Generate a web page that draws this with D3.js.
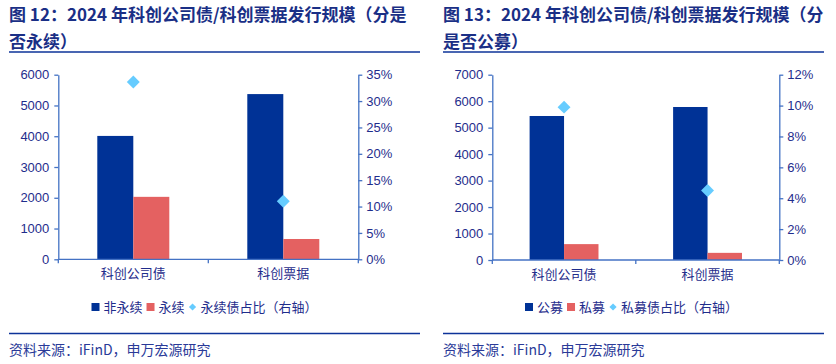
<!DOCTYPE html>
<html>
<head>
<meta charset="utf-8">
<script src="https://cdn.jsdelivr.net/npm/d3@7"></script>
<style>
  body { margin: 0; background: #fff; }
  svg text { font-family: "Liberation Sans", Arial, "Noto Sans CJK SC", sans-serif; }
  .cjk { font-family: "Noto Sans CJK SC", "Liberation Sans", sans-serif; }
</style>
</head>
<body>
<div id="chart"></div>
<script>
// categories shared by both panels
var categories = ["科创公司债", "科创票据"];

// 图12: 分是否永续
var perpNo = [4010, 5370];
var perpYes = [2030, 660];
var perpShare = [33.6, 11.0];
var leftTicks12 = [0, 1000, 2000, 3000, 4000, 5000, 6000];
var rightTicks12 = [0, 5, 10, 15, 20, 25, 30, 35];

// 图13: 分是否公募
var publicAmt = [5440, 5780];
var privateAmt = [600, 270];
var privateShare = [9.9, 4.5];
var leftTicks13 = [0, 1000, 2000, 3000, 4000, 5000, 6000, 7000];
var rightTicks13 = [0, 2, 4, 6, 8, 10, 12];

var BLUE = "#003296", RED = "#E46161", CYAN = "#66CCFF";
var AXIS = "#4472C4", TXT = "#1F2D8C", TITLE = "#1A2F86";

var svg = d3.select("#chart").append("svg")
    .attr("width", 836).attr("height", 364);

function drawPanel(p) {
    var g = svg.append("g");

    // title (two lines) and rule
    p.title.forEach(function(t, i) {
        g.append("text").attr("class", "cjk")
            .attr("x", p.titleX).attr("y", 21 + i * 27)
            .attr("fill", TITLE).attr("font-size", 17).attr("font-weight", "bold")
            .text(t);
    });
    g.append("line").attr("x1", p.titleX).attr("x2", p.ruleEnd)
        .attr("y1", 52).attr("y2", 52)
        .attr("stroke", "#0D3399").attr("stroke-width", 1.5);

    var x = d3.scaleBand().domain(categories).range([p.x0, p.x1]);
    var y = d3.scaleLinear().domain([0, p.leftMax]).range([p.yb, p.yt]);
    var y2 = d3.scaleLinear().domain([0, p.rightMax]).range([p.yb, p.yt]);

    var yAxis = d3.axisLeft(y).tickValues(p.leftTicks).tickSize(4).tickSizeOuter(0).tickPadding(5)
        .tickFormat(d3.format("d"));
    var y2Axis = d3.axisRight(y2).tickValues(p.rightTicks).tickSize(4).tickSizeOuter(0).tickPadding(4)
        .tickFormat(function(d) { return d + "%"; });

    var ya = g.append("g").attr("transform", "translate(" + p.x0 + ",0)").call(yAxis);
    var yb = g.append("g").attr("transform", "translate(" + p.x1 + ",0)").call(y2Axis);
    [ya, yb].forEach(function(a) {
        a.select(".domain").attr("stroke", AXIS).attr("stroke-width", 1.3);
        a.selectAll(".tick line").attr("stroke", AXIS).attr("stroke-width", 1.3);
        a.selectAll(".tick text").attr("fill", TXT).attr("font-size", 13)
            .attr("font-family", "Liberation Sans, Arial, sans-serif");
    });

    // bars
    var gw = x.bandwidth() * 0.48;
    var sub = d3.scaleBand().domain([0, 1]).range([-gw / 2, gw / 2]);
    var series = [p.s1, p.s2];
    var colors = [BLUE, RED];
    series.forEach(function(vals, si) {
        g.append("g").selectAll("rect").data(vals).enter().append("rect")
            .attr("x", function(d, i) { return x(categories[i]) + x.bandwidth() / 2 + sub(si); })
            .attr("y", function(d) { return y(d); })
            .attr("width", sub.bandwidth())
            .attr("height", function(d) { return p.yb - y(d); })
            .attr("fill", colors[si]);
    });

    // x axis
    g.append("line").attr("x1", p.x0).attr("x2", p.x1).attr("y1", p.yb).attr("y2", p.yb)
        .attr("stroke", AXIS).attr("stroke-width", 1.3);
    var bounds = categories.map(function(c) { return x(c); }).concat([p.x1]);
    g.append("g").selectAll("line").data(bounds).enter().append("line")
        .attr("x1", function(d) { return d; }).attr("x2", function(d) { return d; })
        .attr("y1", p.yb).attr("y2", p.yb + 4)
        .attr("stroke", AXIS).attr("stroke-width", 1.3);
    g.append("g").selectAll("text").data(categories).enter().append("text")
        .attr("class", "cjk")
        .attr("x", function(d) { return x(d) + x.bandwidth() / 2; })
        .attr("y", p.yb + 19)
        .attr("text-anchor", "middle").attr("fill", TXT).attr("font-size", 13)
        .text(function(d) { return d; });

    // share markers (right axis)
    g.append("g").selectAll("path").data(p.share).enter().append("path")
        .attr("d", d3.symbol(d3.symbolSquare, 84))
        .attr("transform", function(d, i) {
            return "translate(" + (x(categories[i]) + x.bandwidth() / 2) + "," + y2(d) + ") rotate(45)";
        })
        .attr("fill", CYAN);

    // legend
    var lg = g.append("g").attr("transform", "translate(" + p.legendX + ",307)");
    var lx = 0;
    p.legend.forEach(function(item, i) {
        if (i < 2) {
            lg.append("rect").attr("x", lx).attr("y", -4).attr("width", 8).attr("height", 8)
                .attr("fill", colors[i]);
        } else {
            lg.append("path").attr("d", d3.symbol(d3.symbolSquare, 26))
                .attr("transform", "translate(" + (lx + 4) + ",0) rotate(45)")
                .attr("fill", CYAN);
        }
        var t = lg.append("text").attr("class", "cjk")
            .attr("x", lx + 12).attr("y", 5)
            .attr("fill", TXT).attr("font-size", 13).text(item);
        lx += 12 + t.node().getComputedTextLength() + 4;
    });

    // source
    g.append("line").attr("x1", p.titleX).attr("x2", p.ruleEnd)
        .attr("y1", 333.5).attr("y2", 333.5)
        .attr("stroke", "#0D3399").attr("stroke-width", 1.3);
    g.append("text").attr("class", "cjk")
        .attr("x", p.titleX).attr("y", 355)
        .attr("fill", "#2A3A98").attr("font-size", 14)
        .text("资料来源：iFinD，申万宏源研究");
}

drawPanel({
    title: ["图 12：2024 年科创公司债/科创票据发行规模（分是", "否永续）"],
    titleX: 9, ruleEnd: 420,
    x0: 58.3, x1: 358.3, yt: 74.7, yb: 259.3,
    leftMax: 6000, rightMax: 35,
    leftTicks: leftTicks12, rightTicks: rightTicks12,
    s1: perpNo, s2: perpYes, share: perpShare,
    legend: ["非永续", "永续", "永续债占比（右轴）"],
    legendX: 91.5
});

drawPanel({
    title: ["图 13：2024 年科创公司债/科创票据发行规模（分", "是否公募）"],
    titleX: 443, ruleEnd: 824,
    x0: 492.3, x1: 779.3, yt: 74.7, yb: 260,
    leftMax: 7000, rightMax: 12,
    leftTicks: leftTicks13, rightTicks: rightTicks13,
    s1: publicAmt, s2: privateAmt, share: privateShare,
    legend: ["公募", "私募", "私募债占比（右轴）"],
    legendX: 525
});
</script>
</body>
</html>
